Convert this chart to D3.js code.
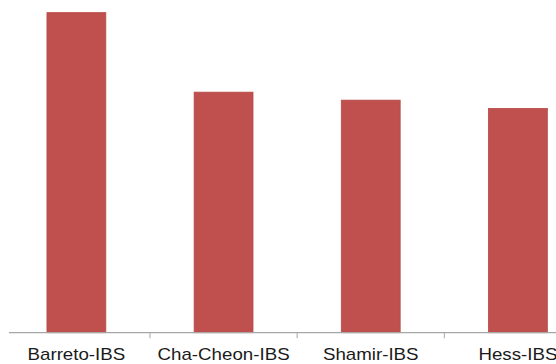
<!DOCTYPE html>
<html>
<head>
<meta charset="utf-8">
<script src="https://cdn.jsdelivr.net/npm/d3@7/dist/d3.min.js"></script>
<style>
  html, body { margin: 0; padding: 0; background: #ffffff; }
  svg { display: block; }
</style>
</head>
<body>
<svg id="chart" width="556" height="364"></svg>
<script>
// Study names and their scores
const categories = ["Barreto-IBS", "Cha-Cheon-IBS", "Shamir-IBS", "Hess-IBS"];
const values = [96.2, 72.3, 69.9, 67.4];
const yDomain = [0, 100];

const svg = d3.select("#chart");
const baseline = 332.7;

const x = d3.scaleBand()
  .domain(categories)
  .range([2.8, 591.5])
  .paddingInner(0.6)
  .paddingOuter(0.3);

const y = d3.scaleLinear()
  .domain(yDomain)
  .range([baseline, 0]);

// Bars
svg.append("g")
  .selectAll("rect")
  .data(categories)
  .join("rect")
  .attr("x", d => x(d))
  .attr("width", x.bandwidth())
  .attr("y", (d, i) => y(values[i]))
  .attr("height", (d, i) => baseline - y(values[i]))
  .attr("fill", "#c0504d")
  .attr("stroke", "#b64a47")
  .attr("stroke-width", 0.8);

// Category axis: baseline with dividers between categories
const axis = svg.append("g");
axis.append("line")
  .attr("x1", 9).attr("x2", 556)
  .attr("y1", baseline).attr("y2", baseline)
  .attr("stroke", "#a6a6a6")
  .attr("stroke-width", 1.2);

const step = x.step();
axis.selectAll("line.tick")
  .data(categories.slice(0, -1))
  .join("line")
  .attr("class", "tick")
  .attr("x1", d => x(d) + x.bandwidth() / 2 + step / 2)
  .attr("x2", d => x(d) + x.bandwidth() / 2 + step / 2)
  .attr("y1", baseline)
  .attr("y2", baseline + 5.5)
  .attr("stroke", "#a6a6a6")
  .attr("stroke-width", 1);

// Category labels (slightly wide lettering)
axis.selectAll("text")
  .data(categories)
  .join("text")
  .attr("transform", d => `translate(${x(d) + x.bandwidth() / 2},360) scale(1.17,1)`)
  .attr("text-anchor", "middle")
  .attr("font-family", "Liberation Sans, Arial, sans-serif")
  .attr("font-size", 16)
  .attr("fill", "#1a1a1a")
  .text(d => d);
</script>
</body>
</html>
